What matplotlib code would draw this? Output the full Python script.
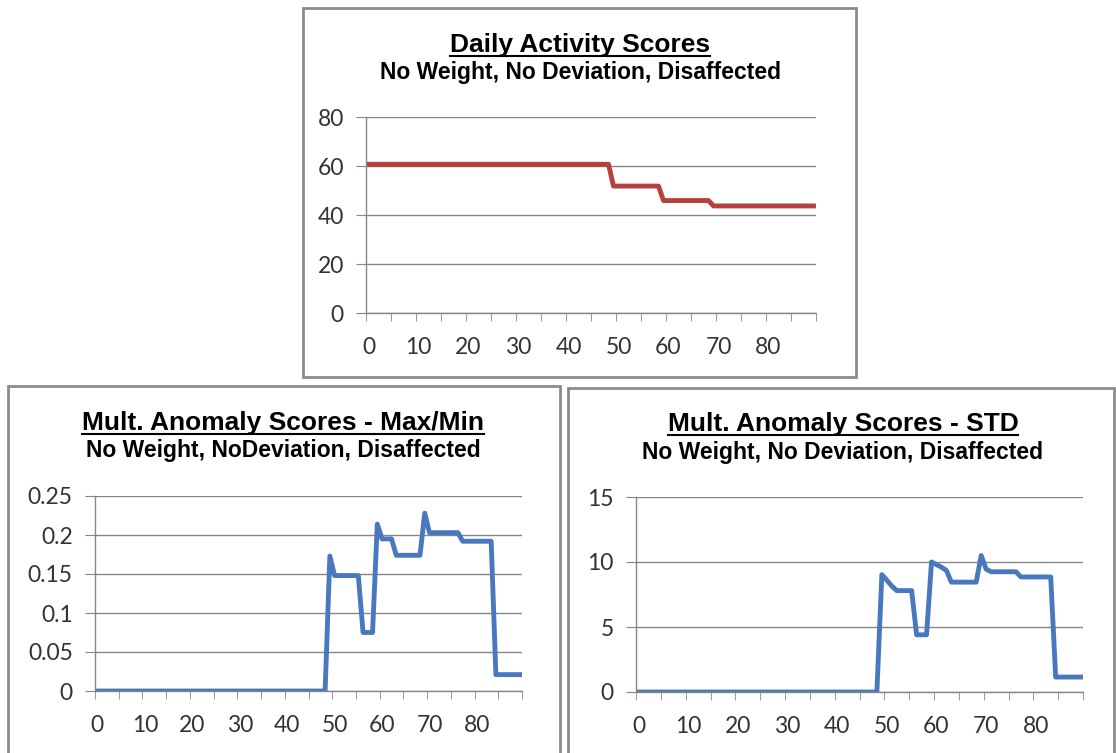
import matplotlib
matplotlib.use("Agg")
import matplotlib.pyplot as plt
from matplotlib.lines import Line2D
from matplotlib.patches import Rectangle
from matplotlib.ticker import FixedLocator, FuncFormatter
import numpy as np

# values, one per day (0..89)
days = np.arange(90)
activity = [60.7] * 49 + [51.8] * 10 + [45.9] * 10 + [43.7] * 21
maxmin = ([0.0] * 49 + [0.173] + [0.148] * 6 + [0.075] * 3 + [0.214] + [0.195] * 3
          + [0.174] * 6 + [0.228] + [0.203] * 7 + [0.192] * 7 + [0.021] * 6)
std = ([0.0] * 49 + [9.03, 8.6, 8.15] + [7.8] * 4 + [4.4] * 3 + [10.0, 9.8, 9.6, 9.35]
       + [8.45] * 6 + [10.5, 9.45] + [9.25] * 6 + [8.85] * 7 + [1.15] * 6)

x_labels = [0, 10, 20, 30, 40, 50, 60, 70, 80]
act_ticks = [0, 20, 40, 60, 80]
maxmin_ticks = [0, 0.05, 0.1, 0.15, 0.2, 0.25]
std_ticks = [0, 5, 10, 15]

W, H = 1116, 753
RED = "#B5413D"
BLUE = "#4A78BE"
GRID = "#868686"

panels = [
    dict(box=(303, 8, 856, 377), ax=(366, 117, 816, 313), title_xy=(580, 45), sub_y=73,
         title="Daily Activity Scores", sub="No Weight, No Deviation, Disaffected",
         y=activity, yticks=act_ticks, color=RED),
    dict(box=(8, 386, 560, 770), ax=(95, 496, 522, 691), title_xy=(283, 423), sub_y=451,
         title="Mult. Anomaly Scores - Max/Min", sub="No Weight, NoDeviation, Disaffected",
         y=maxmin, yticks=maxmin_ticks, color=BLUE),
    dict(box=(568, 388, 1114, 770), ax=(636, 497, 1083, 692), title_xy=(843, 424), sub_y=452,
         title="Mult. Anomaly Scores - STD", sub="No Weight, No Deviation, Disaffected",
         y=std, yticks=std_ticks, color=BLUE),
]

fig = plt.figure(figsize=(W / 100, H / 100), dpi=100)
fig.patch.set_facecolor("white")

titles = []
for p in panels:
    x0, y0, x1, y1 = p["box"]
    fig.add_artist(Rectangle((x0 / W, 1 - y1 / H), (x1 - x0) / W, (y1 - y0) / H,
                             transform=fig.transFigure, fill=False,
                             edgecolor="#8c8c8c", linewidth=2))

    l, t, r, b = p["ax"]
    ax = fig.add_axes([l / W, 1 - b / H, (r - l) / W, (b - t) / H])
    ax.plot(days, p["y"], color=p["color"], linewidth=3.5, solid_joinstyle="round")
    ax.set_xlim(-0.5, 89.5)
    ax.set_ylim(p["yticks"][0], p["yticks"][-1])

    ax.set_yticks(p["yticks"])
    ax.yaxis.set_major_formatter(FuncFormatter(lambda v, _: f"{v:g}"))
    ax.set_xticks(x_labels)
    ax.xaxis.set_minor_locator(FixedLocator(np.arange(-0.5, 90, 5)))
    ax.tick_params(axis="x", which="major", length=0, pad=17)
    ax.tick_params(axis="x", which="minor", length=6, color=GRID, direction="out")
    ax.tick_params(axis="y", length=7, color=GRID, pad=9)
    for lab in ax.get_xticklabels() + ax.get_yticklabels():
        lab.set_fontfamily("Lato")
        lab.set_fontsize(16.5)
        lab.set_color("#333333")

    ax.yaxis.grid(True, color=GRID, linewidth=1)
    ax.set_axisbelow(True)
    for side in ("top", "right"):
        ax.spines[side].set_visible(False)
    for side in ("left", "bottom"):
        ax.spines[side].set_color(GRID)
        ax.spines[side].set_linewidth(1)

    cx, cy = p["title_xy"]
    tt = fig.text(cx / W, 1 - cy / H, p["title"], ha="center", va="center",
                  fontfamily="Liberation Sans", fontweight="bold", fontsize=19)
    fig.text(cx / W, 1 - p["sub_y"] / H, p["sub"], ha="center", va="center",
             fontfamily="Liberation Sans", fontweight="bold", fontsize=16.5)
    titles.append(tt)

# underline the main titles
fig.canvas.draw()
renderer = fig.canvas.get_renderer()
for tt in titles:
    bb = tt.get_window_extent(renderer)
    yy = (bb.y0 + 1) / H
    fig.add_artist(Line2D([bb.x0 / W, bb.x1 / W], [yy, yy], transform=fig.transFigure,
                          color="black", linewidth=1.5))

fig.savefig("out.png", dpi=100)
